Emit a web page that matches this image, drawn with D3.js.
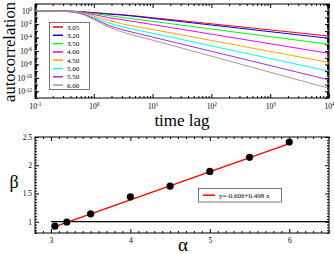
<!DOCTYPE html>
<html><head><meta charset="utf-8">
<script src="https://cdn.jsdelivr.net/npm/d3@7/dist/d3.min.js"></script>
<style>
html,body{margin:0;padding:0;background:#fff;}
svg{display:block;}
text{font-family:"Liberation Serif","Times New Roman",serif;fill:#000;}
</style></head>
<body>
<svg id="c" width="334" height="254"></svg>
<script>
// ---------- data ----------
const alphaLabels = ["3.05","3.20","3.50","4.00","4.50","5.00","5.50","6.00"];
const seriesColors = ["#ff0000","#0000ff","#00ff00","#ff00ff","#ffa500","#00ffff","#9a32dc","#bc8f8f"];
const timeLag = [0.1, 0.316, 0.562, 1, 1.78, 3.16, 10, 100, 1000, 10000];
const ac305 = [1, 0.89, 0.76, 0.52, 0.36, 0.25, 0.091, 0.0112, 0.00138, 1.7e-4];
const ac320 = [1, 0.89, 0.74, 0.47, 0.31, 0.22, 0.072, 0.0074, 7.6e-4, 7.8e-5];
const ac350 = [1, 0.87, 0.69, 0.38, 0.19, 0.095, 0.026, 0.0019, 1.38e-4, 1.0e-5];
const ac400 = [1, 0.85, 0.63, 0.27, 0.095, 0.044, 0.0087, 3.2e-4, 1.2e-5, 4.5e-7];
const ac450 = [1, 0.83, 0.56, 0.16, 0.036, 0.0102, 0.0016, 3.7e-5, 8.7e-7, 2.0e-8];
const ac500 = [1, 0.81, 0.5, 0.1, 0.015, 0.0038, 4.4e-4, 5.8e-6, 7.6e-8, 1.0e-9];
const ac550 = [1, 0.79, 0.45, 0.07, 0.0065, 0.0014, 1.2e-4, 9.1e-7, 6.8e-9, 5.0e-11];
const ac600 = [1, 0.78, 0.4, 0.05, 0.0038, 6.3e-4, 4.1e-5, 1.7e-7, 6.8e-10, 2.8e-12];
const acSeries = [ac305, ac320, ac350, ac400, ac450, ac500, ac550, ac600];
const topXTickExp = [-1, 0, 1, 2, 3, 4];
const topYTickExp = [0, -2, -4, -6, -8, -10, -12];

const alphaValues = [3.05, 3.2, 3.5, 4.0, 4.5, 5.0, 5.5, 6.0];
const betaValues = [0.92, 0.995, 1.14, 1.44, 1.63, 1.89, 2.14, 2.41];
const fitIntercept = -0.606, fitSlope = 0.498;
const fitLabel = "y=-0.606+0.498 x";
const bottomXTicks = [3, 4, 5, 6];
const bottomYTicks = [1, 1.5, 2, 2.5];

// ---------- layout ----------
const svg = d3.select("#c");
const T = {l:35, r:329, t:4, b:98};
const B = {l:35, r:329, t:137, b:233};
const tickFont = 7.5;

// ---------- top panel ----------
const xT = d3.scaleLog().domain([0.1, 1e4]).range([T.l, T.r]);
const yT = d3.scaleLog().domain([1e-13, 10]).range([T.b, T.t]);

const gT = svg.append("g");
svg.append("clipPath").attr("id","clipT").append("rect")
  .attr("x",T.l).attr("y",T.t).attr("width",T.r-T.l).attr("height",T.b-T.t);

const minorX = [];
for (let e=-1; e<4; e++) for (let m=2; m<=9; m++) minorX.push(m*Math.pow(10,e));
const minorY = [];
for (let e=-13; e<1; e++) for (let m=2; m<=9; m++) minorY.push(m*Math.pow(10,e));
const majorYAll = d3.range(-13, 2).map(e=>Math.pow(10,e));

function supLabels(sel, anchor){
  sel.selectAll(".tick text").each(function(d){
    const t = d3.select(this);
    t.text(null).attr("text-anchor", anchor);
    const e = Math.round(Math.log10(d));
    t.append("tspan").text("10");
    t.append("tspan").attr("dy","-0.5em").attr("font-size","0.7em").text(String(e));
  });
}

const axTB = gT.append("g").attr("transform",`translate(0,${T.b})`)
  .call(d3.axisBottom(xT).tickValues(topXTickExp.map(e=>Math.pow(10,e))).tickSize(-4).tickPadding(4));
axTB.selectAll("text").attr("font-size",tickFont).attr("dy","0.9em");
supLabels(axTB, "middle");
gT.append("g").attr("transform",`translate(0,${T.b})`)
  .call(d3.axisBottom(xT).tickValues(minorX).tickSize(-2).tickFormat(""));
gT.append("g").attr("transform",`translate(0,${T.t})`)
  .call(d3.axisTop(xT).tickValues(topXTickExp.map(e=>Math.pow(10,e))).tickSize(-4).tickFormat(""));
gT.append("g").attr("transform",`translate(0,${T.t})`)
  .call(d3.axisTop(xT).tickValues(minorX).tickSize(-2).tickFormat(""));

const axTL = gT.append("g").attr("transform",`translate(${T.l},0)`)
  .call(d3.axisLeft(yT).tickValues(topYTickExp.map(e=>Math.pow(10,e))).tickSize(-4).tickPadding(3));
axTL.selectAll("text").attr("font-size",tickFont);
supLabels(axTL, "end");
gT.append("g").attr("transform",`translate(${T.l},0)`)
  .call(d3.axisLeft(yT).tickValues(majorYAll).tickSize(-3).tickFormat(""));
gT.append("g").attr("transform",`translate(${T.l},0)`)
  .call(d3.axisLeft(yT).tickValues(minorY).tickSize(-2).tickFormat(""));
gT.append("g").attr("transform",`translate(${T.r},0)`)
  .call(d3.axisRight(yT).tickValues(majorYAll).tickSize(-4).tickFormat(""));
gT.append("g").attr("transform",`translate(${T.r},0)`)
  .call(d3.axisRight(yT).tickValues(minorY).tickSize(-2).tickFormat(""));
gT.selectAll(".domain").remove();

const lineT = d3.line().x((d,i)=>xT(timeLag[i])).y(d=>yT(d)).curve(d3.curveMonotoneX);
gT.append("g").attr("clip-path","url(#clipT)")
  .selectAll("path").data(acSeries).join("path")
  .attr("d", lineT).attr("fill","none").attr("stroke",(d,i)=>seriesColors[i]).attr("stroke-width",1);

gT.append("rect").attr("x",T.l).attr("y",T.t).attr("width",T.r-T.l).attr("height",T.b-T.t)
  .attr("fill","none").attr("stroke","#000").attr("stroke-width",1);

// legend
const lg = gT.append("g");
lg.append("rect").attr("x",49.5).attr("y",22.5).attr("width",40).attr("height",67)
  .attr("fill","#fff").attr("stroke","#555").attr("stroke-width",0.8);
alphaLabels.forEach((lab,i)=>{
  const yy = 27 + i*8.3;
  lg.append("line").attr("x1",53).attr("x2",63).attr("y1",yy).attr("y2",yy)
    .attr("stroke",seriesColors[i]).attr("stroke-width",1.5);
  lg.append("text").attr("x",67).attr("y",yy+2.5).attr("font-size",7).text(lab);
});

svg.append("text").attr("transform",`translate(15,${(T.t+T.b)/2+1}) rotate(-90)`)
  .attr("text-anchor","middle").attr("font-size",16.5).text("autocorrelation");
svg.append("text").attr("x",(T.l+T.r)/2).attr("y",126).attr("text-anchor","middle")
  .attr("font-size",17).text("time lag");

// ---------- bottom panel ----------
const xB = d3.scaleLinear().domain([2.8, 6.5]).range([B.l, B.r]);
const yB = d3.scaleLinear().domain([0.8, 2.5]).range([B.b, B.t]);
const gB = svg.append("g");
const minorBX = d3.range(28, 66).map(v=>v/10).filter(v=>!bottomXTicks.includes(v));
const minorBY = d3.range(16, 51).map(v=>v/20).filter(v=>!bottomYTicks.includes(v));

const axBB = gB.append("g").attr("transform",`translate(0,${B.b})`)
  .call(d3.axisBottom(xB).tickValues(bottomXTicks).tickSize(-4).tickPadding(4).tickFormat(d3.format("d")));
axBB.selectAll("text").attr("font-size",tickFont).attr("dy","0.8em");
gB.append("g").attr("transform",`translate(0,${B.b})`)
  .call(d3.axisBottom(xB).tickValues(minorBX).tickSize(-2).tickFormat(""));
gB.append("g").attr("transform",`translate(0,${B.t})`)
  .call(d3.axisTop(xB).tickValues(bottomXTicks).tickSize(-4).tickFormat(""));
gB.append("g").attr("transform",`translate(0,${B.t})`)
  .call(d3.axisTop(xB).tickValues(minorBX).tickSize(-2).tickFormat(""));
const axBL = gB.append("g").attr("transform",`translate(${B.l},0)`)
  .call(d3.axisLeft(yB).tickValues(bottomYTicks).tickSize(-4).tickPadding(3).tickFormat(d=>String(d)));
axBL.selectAll("text").attr("font-size",tickFont);
gB.append("g").attr("transform",`translate(${B.l},0)`)
  .call(d3.axisLeft(yB).tickValues(minorBY).tickSize(-2).tickFormat(""));
gB.append("g").attr("transform",`translate(${B.r},0)`)
  .call(d3.axisRight(yB).tickValues(bottomYTicks).tickSize(-4).tickFormat(""));
gB.append("g").attr("transform",`translate(${B.r},0)`)
  .call(d3.axisRight(yB).tickValues(minorBY).tickSize(-2).tickFormat(""));
gB.selectAll(".domain").remove();

gB.append("line").attr("x1",xB(3)).attr("x2",xB(6.5)).attr("y1",yB(1)).attr("y2",yB(1))
  .attr("stroke","#000").attr("stroke-width",1.2);
const fitX = [alphaValues[0], alphaValues[alphaValues.length-1]];
gB.append("line").attr("x1",xB(fitX[0])).attr("x2",xB(fitX[1]))
  .attr("y1",yB(fitIntercept+fitSlope*fitX[0])).attr("y2",yB(fitIntercept+fitSlope*fitX[1]))
  .attr("stroke","#ff0000").attr("stroke-width",1.5);
gB.selectAll("circle").data(alphaValues).join("circle")
  .attr("cx",d=>xB(d)).attr("cy",(d,i)=>yB(betaValues[i])).attr("r",3.6).attr("fill","#000");

gB.append("rect").attr("x",B.l).attr("y",B.t).attr("width",B.r-B.l).attr("height",B.b-B.t)
  .attr("fill","none").attr("stroke","#000").attr("stroke-width",1);

gB.append("rect").attr("x",198.5).attr("y",188.5).attr("width",83).attr("height",13.5)
  .attr("fill","#fff").attr("stroke","#555").attr("stroke-width",0.8);
gB.append("line").attr("x1",203).attr("x2",215).attr("y1",195.2).attr("y2",195.2)
  .attr("stroke","#ff0000").attr("stroke-width",1.5);
gB.append("text").attr("x",219).attr("y",197.8).attr("font-size",7).text(fitLabel);

svg.append("text").attr("x",14).attr("y",188).attr("text-anchor","middle").attr("font-size",18).text("β");
svg.append("text").attr("x",183).attr("y",251).attr("text-anchor","middle").attr("font-size",19).text("α");
</script>
</body></html>
